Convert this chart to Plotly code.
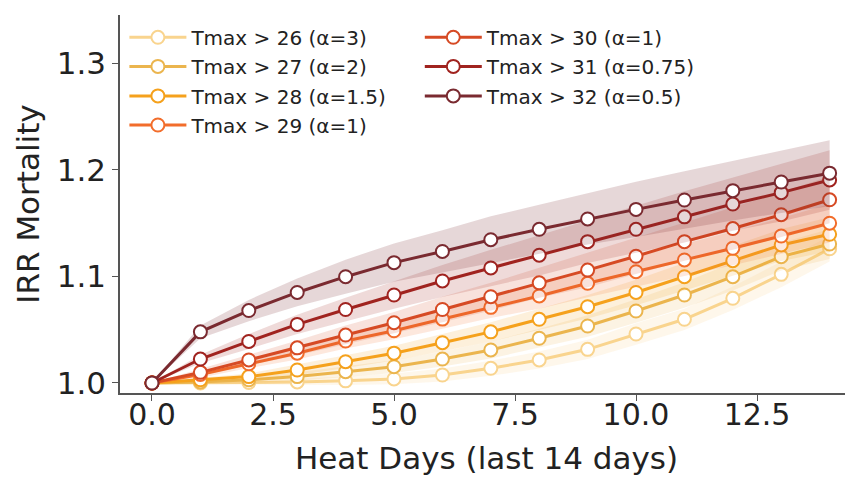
import plotly.graph_objects as go

days = list(range(15))

labels = ["Tmax > 26 (α=3)", "Tmax > 27 (α=2)", "Tmax > 28 (α=1.5)", "Tmax > 29 (α=1)",
          "Tmax > 30 (α=1)", "Tmax > 31 (α=0.75)", "Tmax > 32 (α=0.5)"]

irr_t26 = [1.0, 1.0, 1.0005, 1.001, 1.002, 1.0038, 1.0075, 1.0138, 1.0216, 1.0316, 1.046, 1.0598, 1.0795, 1.102, 1.126]
irr_t27 = [1.0, 1.001, 1.003, 1.006, 1.0106, 1.0153, 1.0225, 1.031, 1.042, 1.0535, 1.0676, 1.0826, 1.0998, 1.1186, 1.1305]
irr_t28 = [1.0, 1.003, 1.006, 1.0122, 1.020, 1.028, 1.0378, 1.048, 1.0598, 1.0716, 1.085, 1.0998, 1.1148, 1.1296, 1.1396]
irr_t29 = [1.0, 1.008, 1.018, 1.028, 1.0394, 1.049, 1.060, 1.071, 1.0817, 1.0936, 1.1045, 1.1155, 1.1265, 1.138, 1.150]
irr_t30 = [1.0, 1.010, 1.0216, 1.033, 1.045, 1.0566, 1.069, 1.081, 1.094, 1.106, 1.119, 1.1327, 1.145, 1.158, 1.172]
irr_t31 = [1.0, 1.0225, 1.039, 1.055, 1.069, 1.0826, 1.0958, 1.108, 1.120, 1.1327, 1.1443, 1.156, 1.168, 1.1787, 1.1906]
irr_t32 = [1.0, 1.048, 1.068, 1.085, 1.0998, 1.113, 1.1235, 1.1345, 1.1443, 1.154, 1.163, 1.1718, 1.1806, 1.1887, 1.197]

# confidence-interval half widths
ci_t26 = [0.0, 0.001, 0.002, 0.003, 0.004, 0.005, 0.006, 0.007, 0.008, 0.009, 0.010, 0.010, 0.011, 0.012, 0.012]
ci_t27 = [0.0, 0.002, 0.003, 0.004, 0.005, 0.006, 0.007, 0.008, 0.009, 0.010, 0.011, 0.012, 0.013, 0.013, 0.014]
ci_t28 = [0.0, 0.002, 0.003, 0.005, 0.006, 0.007, 0.008, 0.009, 0.010, 0.011, 0.012, 0.013, 0.014, 0.015, 0.016]
ci_t29 = [0.0, 0.003, 0.004, 0.006, 0.007, 0.008, 0.009, 0.010, 0.012, 0.013, 0.014, 0.015, 0.016, 0.017, 0.018]
ci_t30 = [0.0, 0.003, 0.005, 0.007, 0.009, 0.010, 0.012, 0.013, 0.014, 0.016, 0.017, 0.018, 0.020, 0.021, 0.022]
ci_t31 = [0.0, 0.004, 0.007, 0.009, 0.011, 0.013, 0.015, 0.017, 0.019, 0.020, 0.022, 0.024, 0.025, 0.027, 0.028]
ci_t32 = [0.0, 0.006, 0.010, 0.013, 0.016, 0.018, 0.020, 0.022, 0.023, 0.024, 0.026, 0.027, 0.028, 0.029, 0.031]

series = [irr_t26, irr_t27, irr_t28, irr_t29, irr_t30, irr_t31, irr_t32]
cis = [ci_t26, ci_t27, ci_t28, ci_t29, ci_t30, ci_t31, ci_t32]

colors = ["#f9d48e", "#ebb54e", "#f5a11c", "#f26d2b", "#d64a24", "#a0231f", "#7a2a30"]
fills = ["rgba(247,207,132,0.16)", "rgba(235,181,78,0.16)", "rgba(245,161,28,0.16)",
         "rgba(242,109,43,0.16)", "rgba(214,74,36,0.16)", "rgba(160,35,31,0.17)",
         "rgba(122,42,48,0.19)"]

x_ticks = [0.0, 2.5, 5.0, 7.5, 10.0, 12.5]
y_ticks = [1.0, 1.1, 1.2, 1.3]

# legend layout: two columns, column-first ordering
legend_ids = ["legend", "legend2", "legend3", "legend4", "legend5", "legend6", "legend7"]
legend_col_x = [0.006, 0.006, 0.006, 0.006, 0.409, 0.409, 0.409]
legend_row_y = [0.941, 0.864, 0.786, 0.709, 0.941, 0.864, 0.786]

fig = go.Figure()
for i, (ys, ci) in enumerate(zip(series, cis)):
    upper = [y + c for y, c in zip(ys, ci)]
    lower = [y - c for y, c in zip(ys, ci)]
    fig.add_trace(go.Scatter(
        x=days + days[::-1], y=upper + lower[::-1], fill="toself",
        fillcolor=fills[i], line=dict(width=0), mode="lines",
        showlegend=False, hoverinfo="skip"))
    fig.add_trace(go.Scatter(
        x=days, y=ys, mode="lines+markers", name=labels[i],
        line=dict(color=colors[i], width=3),
        marker=dict(symbol="circle", size=13, color="white",
                    line=dict(color=colors[i], width=2)),
        legend=legend_ids[i]))

legend_layout = {}
for lid, lx, ly in zip(legend_ids, legend_col_x, legend_row_y):
    legend_layout[lid] = dict(x=lx, y=ly, xanchor="left", yanchor="middle",
                              bgcolor="rgba(255,255,255,0)", font=dict(size=20, color="#222222"),
                              itemwidth=57, borderwidth=0)

fig.update_layout(
    width=845, height=471,
    margin=dict(l=112, r=0, t=7, b=86),
    paper_bgcolor="white", plot_bgcolor="white",
    font=dict(family="DejaVu Sans", color="#222222"),
    xaxis=dict(range=[-0.661, 14.483], tickvals=x_ticks,
               ticktext=[f"{v:.1f}" for v in x_ticks],
               showgrid=False, zeroline=False, showline=True, linecolor="#555555",
               linewidth=1.5, ticks="outside", ticklen=6, tickcolor="#555555",
               tickfont=dict(size=30), ticklabelstandoff=-12,
               title=dict(text="Heat Days (last 14 days)", font=dict(size=31), standoff=17)),
    yaxis=dict(range=[0.9906, 1.3455], tickvals=y_ticks,
               ticktext=[f"{v:.1f}" for v in y_ticks],
               showgrid=False, zeroline=False, showline=True, linecolor="#555555",
               linewidth=1.5, ticks="outside", ticklen=6, tickcolor="#555555",
               tickfont=dict(size=31),
               title=dict(text="IRR Mortality", font=dict(size=31), standoff=8)),
    **legend_layout,
)

fig.write_html("out.html")
